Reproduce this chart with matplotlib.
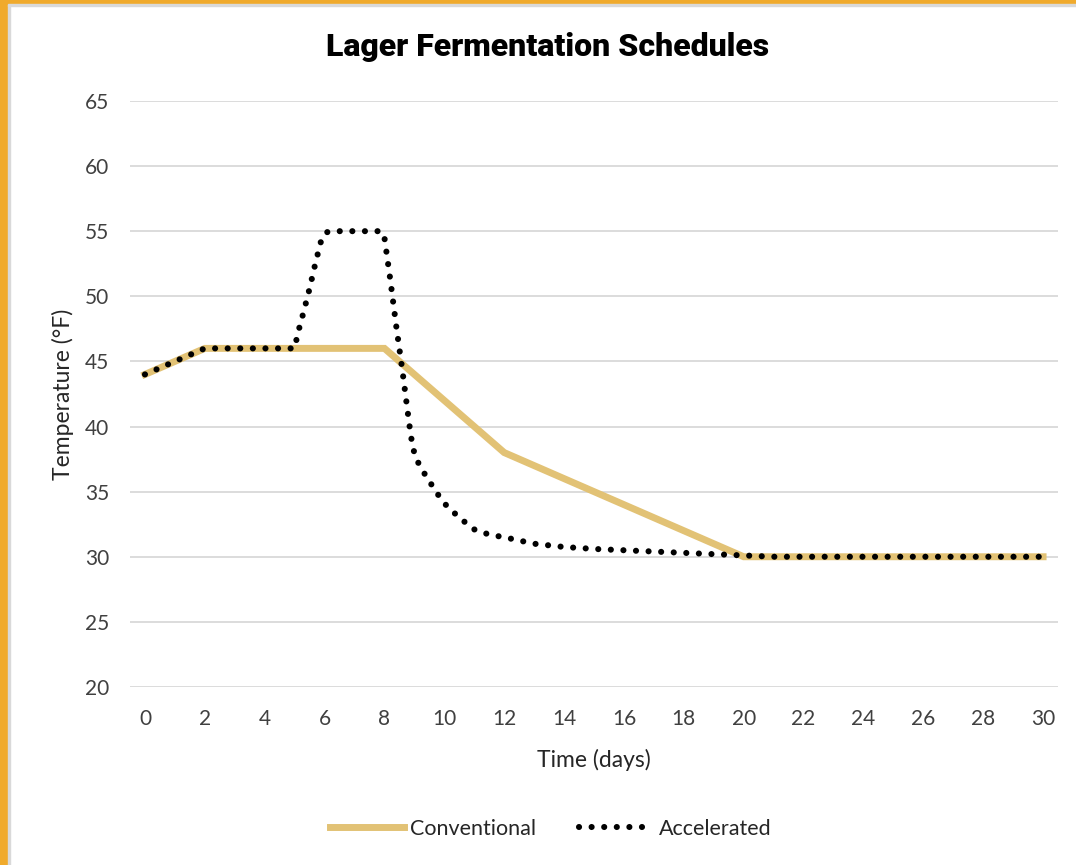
import numpy as np
import matplotlib.pyplot as plt
from matplotlib.patches import Rectangle

# conventional schedule (day, temp F)
conv_days = [0, 2, 8, 12, 20, 30]
conv_temps = [44, 46, 46, 38, 30, 30]

# accelerated schedule
acc_days = [0, 1, 2, 3, 4, 5, 5.1, 5.3, 5.5, 5.7, 5.9, 6.05, 6.2, 7, 7.9,
            8.0, 8.2, 8.4, 8.6, 8.75, 8.88, 9.02, 9.25, 9.5, 9.75, 10,
            10.5, 11, 11.5, 12, 13, 14, 15, 16, 17, 18, 19, 20, 21, 30]
acc_temps = [44, 45, 46, 46, 46, 46, 47.1, 48.8, 50.6, 52.6, 54.4, 54.9, 55, 55, 55,
             54.5, 51.2, 47.6, 44.3, 41.6, 39.3, 37.7, 36.7, 35.8, 34.9, 34.1,
             33.0, 32.1, 31.7, 31.5, 31.0, 30.75, 30.6, 30.5, 30.4, 30.3, 30.2, 30.1, 30, 30]

xticks = np.arange(0, 31, 2)
yticks = np.arange(20, 66, 5)

plt.rcParams['font.family'] = ['Lato', 'DejaVu Sans']

fig = plt.figure(figsize=(10.76, 8.65), dpi=100)
ax = fig.add_axes([0.1208, 0.2058, 0.8625, 0.6775])

ax.plot(conv_days, conv_temps, color='#E2C275', lw=5.0,
        solid_joinstyle='miter', label='Conventional', zorder=2)
ax.plot(acc_days, acc_temps, color='black', lw=4.4,
        linestyle=(0, (0.01, 2.05)), dash_capstyle='round',
        label='Accelerated', zorder=3)

ax.set_xlim(-0.5, 30.5)
ax.set_ylim(20, 65)
ax.set_xticks(xticks)
ax.set_yticks(yticks)
ax.tick_params(length=0, labelsize=15, colors='#404040', pad=16)
ax.tick_params(axis='y', pad=15)
ax.grid(axis='y', color='#D9D9D9', lw=1.3)
ax.set_axisbelow(True)
for s in ax.spines.values():
    s.set_visible(False)

ax.set_xlabel('Time (days)', fontsize=16.5, color='#262626', labelpad=14)
ax.set_ylabel('Temperature (°F)', fontsize=16.5, color='#262626', labelpad=8)

fig.text(0.509, 0.946, 'Lager Fermentation Schedules', ha='center', va='center',
         fontsize=23, fontweight='heavy',
         family=['Roboto', 'DejaVu Sans'], color='black')

leg = fig.legend(loc='center', bbox_to_anchor=(0.512, 0.042), ncol=2,
                 frameon=False, fontsize=15.5, handlelength=3.4,
                 columnspacing=2.0, handletextpad=0.3)
for t in leg.get_texts():
    t.set_color('#262626')

# orange frame on left and top with thin grey inner line
fig.patches.append(Rectangle((0, 0), 8 / 1076, 1, transform=fig.transFigure,
                             color='#F0AA2C', zorder=0))
fig.patches.append(Rectangle((8 / 1076, 0), 2 / 1076, 1 - 4 / 865,
                             transform=fig.transFigure, color='#D9D9D9', zorder=0))
fig.patches.append(Rectangle((0, 1 - 4 / 865), 1, 4 / 865, transform=fig.transFigure,
                             color='#F0AA2C', zorder=0))
fig.patches.append(Rectangle((8 / 1076, 1 - 6 / 865), 1, 2 / 865,
                             transform=fig.transFigure, color='#D9D9D9', zorder=0))

fig.savefig('out.png', dpi=100)
